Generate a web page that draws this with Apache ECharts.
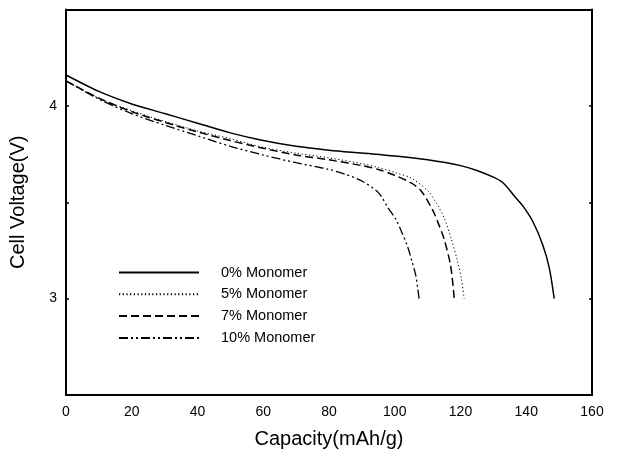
<!DOCTYPE html>
<html><head><meta charset="utf-8">
<script src="https://cdn.jsdelivr.net/npm/echarts@6/dist/echarts.min.js"></script>
<style>html,body{margin:0;padding:0;background:#fff}#c{width:618px;height:461px}</style>
</head><body><div id="c"></div>
<script>
const seriesNames = ['0% Monomer', '5% Monomer', '7% Monomer', '10% Monomer'];
const cap0 = [0,10,20,30,40,50,60,70,80,90,100,110,120,125,130,133,136,139,142,145,147,148.5];
const v0   = [4.16,4.075,4.01,3.96,3.91,3.86,3.82,3.79,3.77,3.755,3.74,3.72,3.69,3.665,3.63,3.60,3.54,3.48,3.40,3.28,3.16,3.0];
const cap5 = [0,10,20,30,40,50,60,70,80,90,95,100,105,110,112.5,115,117,119,120.3,121.1];
const v5   = [4.13,4.04,3.975,3.92,3.87,3.83,3.785,3.755,3.73,3.70,3.68,3.655,3.625,3.56,3.50,3.42,3.32,3.20,3.10,3.0];
const cap7 = [0,10,20,30,40,50,60,70,80,90,95,100,105,108,111.5,113.5,115,117,118.1];
const v7   = [4.13,4.04,3.97,3.915,3.865,3.82,3.78,3.745,3.72,3.69,3.67,3.64,3.60,3.56,3.46,3.38,3.31,3.17,3.0];
const cap10 = [0,10,20,30,40,50,60,70,80,85,90,95,98,100.4,102,103.9,105.3,106.4,107.4];
const v10   = [4.13,4.035,3.96,3.9,3.845,3.79,3.745,3.705,3.67,3.645,3.61,3.55,3.47,3.41,3.35,3.27,3.19,3.12,3.0];
const xTicks = [0,20,40,60,80,100,120,140,160];
const yTickLabels = [3,4];

const pairs = (xs, ys) => xs.map((x, i) => [x, ys[i]]);
const FONT = 'Liberation Sans, Arial, sans-serif';
const chart = echarts.init(document.getElementById('c'), null, {renderer: 'canvas'});
const styles = [
  {type: 'solid', width: 1.5},
  {type: [1.2, 2.5], width: 1},
  {type: [8, 4], width: 1.5},
  {type: [9, 3, 2, 3, 2, 3], width: 1.3}
];
const data = [pairs(cap0, v0), pairs(cap5, v5), pairs(cap7, v7), pairs(cap10, v10)];
chart.setOption({
  animation: false,
  backgroundColor: '#fff',
  grid: {left: 66, right: 26, top: 9.5, bottom: 66},
  legend: {
    orient: 'vertical', left: 113, top: 260, itemWidth: 80, itemHeight: 10, itemGap: 6.8,
    data: seriesNames,
    itemStyle: {opacity: 0},
    textStyle: {fontFamily: FONT, fontSize: 14.5, color: '#000', padding: [0, 0, 0, 17]}
  },
  xAxis: [{
    type: 'value', min: 0, max: 160, interval: 20,
    name: 'Capacity(mAh/g)', nameLocation: 'middle', nameGap: 34,
    nameTextStyle: {fontFamily: FONT, fontSize: 20, color: '#000'},
    axisLine: {lineStyle: {color: '#000', width: 2}},
    axisTick: {show: false},
    axisLabel: {fontFamily: FONT, fontSize: 14, color: '#000', margin: 10,
      formatter: v => xTicks.includes(v) ? String(v) : ''},
    splitLine: {show: false}
  }, {
    type: 'value', min: 0, max: 160, position: 'top',
    axisLine: {onZero: false, lineStyle: {color: '#000', width: 2}},
    axisTick: {show: false}, axisLabel: {show: false}, splitLine: {show: false}
  }],
  yAxis: [{
    type: 'value', min: 2.5, max: 4.5, interval: 0.5,
    name: 'Cell Voltage(V)', nameLocation: 'middle', nameGap: 38,
    nameTextStyle: {fontFamily: FONT, fontSize: 20, color: '#000'},
    axisLine: {show: true, lineStyle: {color: '#000', width: 2}},
    axisTick: {show: true, inside: true, length: 3, lineStyle: {color: '#000', width: 1.5}},
    axisLabel: {fontFamily: FONT, fontSize: 14, color: '#000', margin: 9,
      formatter: v => yTickLabels.includes(v) ? String(v) : ''},
    splitLine: {show: false}
  }, {
    type: 'value', min: 2.5, max: 4.5, interval: 0.5, position: 'right',
    axisLine: {show: true, onZero: false, lineStyle: {color: '#000', width: 2}},
    axisTick: {show: true, inside: true, length: 3, lineStyle: {color: '#000', width: 1.5}},
    axisLabel: {show: false}, splitLine: {show: false}
  }],
  series: seriesNames.map((n, i) => ({
    name: n, type: 'line', data: data[i], symbol: 'none', smooth: 0.3,
    xAxisIndex: 0, yAxisIndex: 0,
    lineStyle: {color: '#000', width: styles[i].width, type: styles[i].type},
    itemStyle: {color: '#000'}
  }))
});
</script></body></html>
